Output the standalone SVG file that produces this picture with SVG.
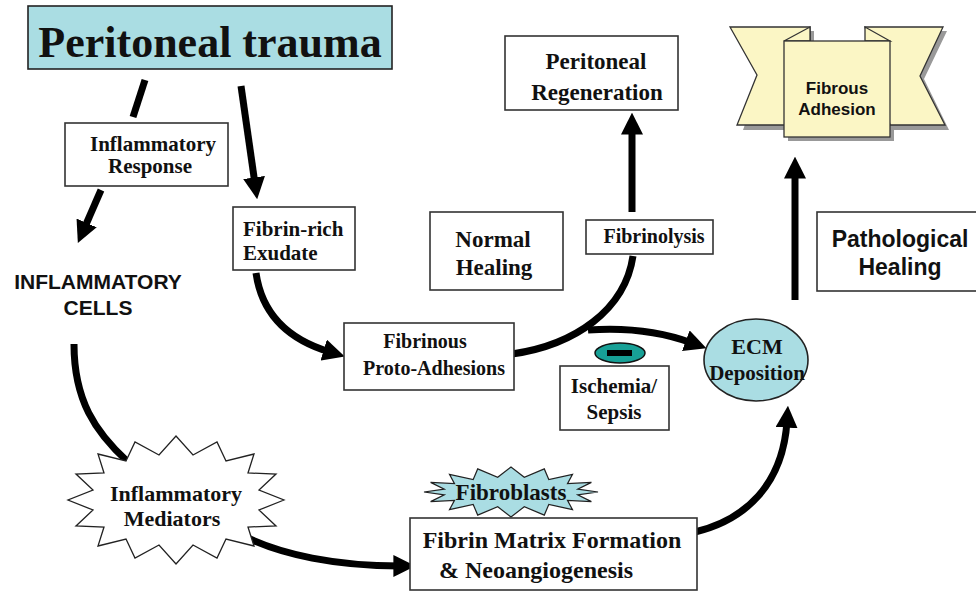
<svg xmlns="http://www.w3.org/2000/svg" width="976" height="595" viewBox="0 0 976 595">
<style>
.box{fill:#fff;stroke:#333;stroke-width:1.6}
.cyan{fill:#aadde3;stroke:#222;stroke-width:1.6}
.s{font-family:"Liberation Serif","Times New Roman",serif;font-weight:bold;fill:#111;text-anchor:middle}
.ss{font-family:"Liberation Sans",Arial,sans-serif;font-weight:bold;fill:#111;text-anchor:middle}
.l{text-anchor:start}
.c{fill:none;stroke:#000;stroke-width:7}
</style>
<defs>
<marker id="ah" viewBox="0 0 20 20" refX="6" refY="10" markerWidth="22" markerHeight="22" markerUnits="userSpaceOnUse" orient="auto">
<path d="M0,0 L20,10 L0,20 z" fill="#000"/>
</marker>
</defs>
<rect width="976" height="595" fill="#fff"/>

<g id="connectors">
<path class="c" d="M145,80 L133,117"/>
<path class="c" d="M101,190 L84,229" marker-end="url(#ah)"/>
<path class="c" d="M241,86 L255,184" marker-end="url(#ah)"/>
<path class="c" d="M256,273 C262,315 290,340 330,352" marker-end="url(#ah)"/>
<path class="c" d="M74,344 C74,400 95,432 128,462"/>
<path class="c" d="M238,533 C280,556 340,566 400,566" marker-end="url(#ah)"/>
<path class="c" d="M695,532 C745,520 783,485 787,421" marker-end="url(#ah)"/>
<path class="c" d="M512,354 C575,345 625,310 633,256"/>
<path class="c" d="M588,330 C630,327 665,333 692,343" marker-end="url(#ah)"/>
<path class="c" d="M632,212 L632,128" marker-end="url(#ah)"/>
<path class="c" d="M795,300 L795,172" marker-end="url(#ah)"/>
</g>

<g id="peritoneal-trauma">
<rect x="28" y="6" width="364" height="63" class="cyan" stroke-width="2"/>
<text x="210" y="57" class="s" font-size="44">Peritoneal trauma</text>
</g>

<g id="inflammatory-response">
<rect x="65" y="123" width="163" height="63" class="box"/>
<text x="153" y="151" class="s" font-size="21">Inflammatory</text>
<text x="150" y="173" class="s" font-size="21">Response</text>
</g>

<g id="inflammatory-cells">
<text x="98" y="289" class="ss" font-size="21">INFLAMMATORY</text>
<text x="98" y="315" class="ss" font-size="21">CELLS</text>
</g>

<g id="fibrin-rich-exudate">
<rect x="233" y="207" width="122" height="63" class="box"/>
<text x="243" y="236" class="s l" font-size="21">Fibrin-rich</text>
<text x="243" y="260" class="s l" font-size="21">Exudate</text>
</g>

<g id="peritoneal-regeneration">
<rect x="505" y="36" width="173" height="74" class="box"/>
<text x="596" y="69" class="s" font-size="23">Peritoneal</text>
<text x="597" y="100" class="s" font-size="23">Regeneration</text>
</g>

<g id="fibrous-adhesion">
<polygon points="736,31 814,31 814,130 743,130 761,79" fill="#999"/>
<polygon points="869,31 947,31 924,79 949,130 894,130" fill="#999"/>
<rect x="788" y="44" width="106" height="97" fill="#999"/>
<polygon points="730,27 810,27 810,125 737,125 757,75" fill="#fbf6c5" stroke="#333" stroke-width="1.3"/>
<polygon points="865,27 943,27 920,76 945,125 890,125" fill="#fbf6c5" stroke="#333" stroke-width="1.3"/>
<polygon points="784,41 810,27 810,41" fill="#fbf6c5" stroke="#333" stroke-width="1.3"/>
<polygon points="890,41 865,27 865,41" fill="#fbf6c5" stroke="#333" stroke-width="1.3"/>
<rect x="784" y="41" width="106" height="96" fill="#fbf6c5" stroke="#333" stroke-width="1.3"/>
<text x="837" y="94" class="ss" font-size="17">Fibrous</text>
<text x="837" y="115" class="ss" font-size="17">Adhesion</text>
</g>

<g id="normal-healing">
<rect x="430" y="212" width="133" height="78" class="box"/>
<text x="493" y="247" class="s" font-size="23">Normal</text>
<text x="494" y="275" class="s" font-size="23">Healing</text>
</g>

<g id="fibrinolysis">
<rect x="586" y="220" width="127" height="34" class="box"/>
<text x="654" y="243" class="s" font-size="20">Fibrinolysis</text>
</g>

<g id="pathological-healing">
<rect x="817" y="212" width="165" height="79" class="box"/>
<text x="900" y="247" class="ss" font-size="23">Pathological</text>
<text x="900" y="275" class="ss" font-size="23">Healing</text>
</g>

<g id="fibrinous-proto-adhesions">
<rect x="344" y="323" width="170" height="67" class="box"/>
<text x="425" y="348" class="s" font-size="20">Fibrinous</text>
<text x="434" y="375" class="s" font-size="20">Proto-Adhesions</text>
</g>

<g id="inhibitor">
<ellipse cx="620" cy="353" rx="25" ry="10" fill="#17a096" stroke="#111" stroke-width="1.5"/>
<rect x="607" y="350" width="25" height="6" fill="#000"/>
</g>

<g id="ischemia-sepsis">
<rect x="560" y="366" width="109" height="64" class="box"/>
<text x="614" y="393" class="s" font-size="21">Ischemia/</text>
<text x="614" y="419" class="s" font-size="21">Sepsis</text>
</g>

<g id="ecm-deposition">
<ellipse cx="756" cy="360" rx="52" ry="41" class="cyan" stroke-width="1.2"/>
<text x="757" y="354" class="s" font-size="22">ECM</text>
<text x="757" y="380" class="s" font-size="21">Deposition</text>
</g>

<g id="inflammatory-mediators">
<polygon points="284,500 259,510 276,526 248,527 254,546 226,539 217,558 193,545 176,564 159,545 135,558 126,539 98,546 104,527 76,526 93,510 68,500 93,490 76,474 104,473 98,454 126,461 135,442 159,455 176,436 193,455 217,442 226,461 254,454 248,473 276,474 259,490" fill="#fff" stroke="#222" stroke-width="1.3"/>
<text x="176" y="501" class="s" font-size="22">Inflammatory</text>
<text x="172" y="526" class="s" font-size="22">Mediators</text>
</g>

<g id="fibroblasts">
<polygon points="598,492 577.7,494.9 591.4,501.6 567.5,500.3 572.5,509.7 548.8,504.5 544.3,515.1 524.3,506.7 511,517 497.7,506.7 477.7,515.1 473.2,504.5 449.5,509.7 454.5,500.3 430.6,501.6 444.3,494.9 424,492 444.3,489.1 430.6,482.4 454.5,483.7 449.5,474.3 473.2,479.5 477.7,468.9 497.7,477.3 511,467 524.3,477.3 544.3,468.9 548.8,479.5 572.5,474.3 567.5,483.7 591.4,482.4 577.7,489.1" fill="#aadde3" stroke="#222" stroke-width="1.2"/>
<text x="511" y="500" class="s" font-size="23">Fibroblasts</text>
</g>

<g id="fibrin-matrix">
<rect x="410" y="518" width="287" height="72" class="box"/>
<text x="552" y="548" class="s" font-size="24">Fibrin Matrix Formation</text>
<text x="536" y="578" class="s" font-size="24">&amp;  Neoangiogenesis</text>
</g>
</svg>
